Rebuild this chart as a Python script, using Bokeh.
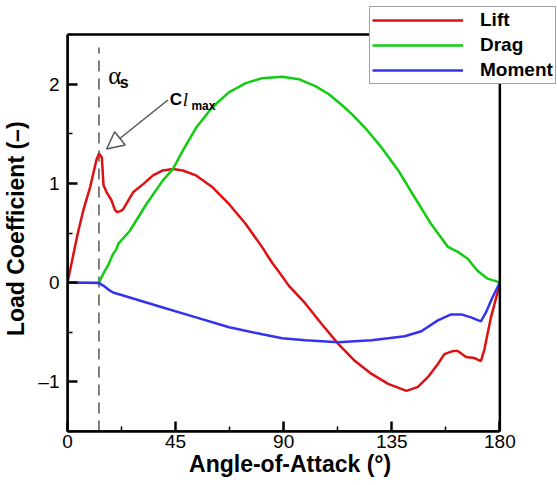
from bokeh.plotting import figure
from bokeh.models import (FixedTicker, Legend, LegendItem, Arrow, NormalHead,
                          Label, Range1d, BoxAnnotation)
from bokeh.embed import file_html
from bokeh.resources import INLINE

# ---------------- data ----------------
aoa_lift = [0, 2.5, 4.5, 6.6, 9.4, 12.1, 13.1, 14.3, 14.7, 15.0, 16.3, 18.3,
            19.6, 20.6, 22.0, 23.2, 27.3, 31.4, 35.6, 39.7, 43.9, 48.0, 53.5,
            60.4, 67.3, 74.2, 81.1, 85.2, 88.0, 92.1, 99.0, 105.9, 112.8,
            119.7, 126.6, 133.5, 141.1, 145.9, 150.1, 154.2, 156.9, 160.4,
            162.5, 165.9, 169.4, 172.1, 173.5, 176.3, 179.8, 180]
lift = [0, 0.29, 0.52, 0.73, 0.96, 1.24, 1.30, 1.26, 1.10, 0.98, 0.91, 0.83,
        0.74, 0.71, 0.72, 0.74, 0.91, 0.99, 1.08, 1.13, 1.145, 1.13, 1.08,
        0.96, 0.79, 0.59, 0.355, 0.20, 0.11, -0.03, -0.21, -0.42, -0.62,
        -0.79, -0.92, -1.02, -1.09, -1.05, -0.95, -0.82, -0.72, -0.69,
        -0.69, -0.75, -0.76, -0.79, -0.68, -0.35, -0.03, 0]

aoa_drag = [0, 13.1, 14.9, 17.0, 19.0, 20.4, 21.1, 25.9, 32.8, 39.7, 43.9,
            48.0, 53.5, 60.4, 67.3, 74.2, 81.1, 89.4, 96.3, 103.2, 108.7,
            114.2, 118.3, 123.9, 130.8, 137.7, 144.5, 151.4, 158.4, 162.5,
            166.6, 170.7, 174.9, 179.0, 180]
drag = [0, 0, 0.09, 0.18, 0.29, 0.34, 0.39, 0.52, 0.79, 1.03, 1.145,
        1.33, 1.56, 1.77, 1.92, 2.01, 2.06, 2.075, 2.05, 1.98, 1.90,
        1.79, 1.70, 1.56, 1.36, 1.13, 0.86, 0.59, 0.36, 0.31,
        0.24, 0.12, 0.04, 0.01, 0]

aoa_moment = [0, 13.1, 14.9, 17.0, 19.0, 25.9, 32.8, 39.7, 53.5, 67.3, 81.1,
              89.4, 99.0, 112.8, 126.6, 140.4, 147.3, 154.2, 159.7, 163.9,
              168.0, 172.1, 174.2, 176.9, 179.8, 180]
moment = [0, -0.005, -0.03, -0.07, -0.10, -0.15, -0.20, -0.25, -0.35, -0.45,
          -0.52, -0.56, -0.58, -0.60, -0.58, -0.54, -0.49, -0.38, -0.32,
          -0.32, -0.35, -0.39, -0.30, -0.15, -0.01, 0]

alpha_stall = 13.1
x_ticks = [0, 45, 90, 135, 180]
x_minor = [22.5, 67.5, 112.5, 157.5]
y_ticks = [-1, 0, 1, 2]
y_minor = [-1.5, -0.5, 0.5, 1.5, 2.5]
series_names = ["Lift", "Drag", "Moment"]
x_title = "Angle-of-Attack (\u00b0)"
y_title = "Load Coefficient (\u2013)"

X_MIN, X_MAX = 0, 180
Y_MIN, Y_MAX = -1.5, 2.5

# ---------------- figure ----------------
FONT = "Liberation Sans"
NBSP = "\u00a0"
# the frame reaches the top and right edges of the page so that the legend
# can overlap the plot box as in the original; the box itself is drawn below
p = figure(width=557, height=485,
           x_range=Range1d(X_MIN, X_MAX + 58 * (X_MAX - X_MIN) / 435),
           y_range=Range1d(Y_MIN, Y_MAX + 34 * (Y_MAX - Y_MIN) / 397),
           output_backend="svg", toolbar_location=None,
           min_border_left=64, min_border_right=0,
           min_border_top=0, min_border_bottom=54)
p.xgrid.visible = False
p.ygrid.visible = False
p.outline_line_color = None
p.background_fill_color = "white"
p.border_fill_color = "white"

for ax in (p.xaxis[0], p.yaxis[0]):
    ax.axis_line_width = 2.5
    ax.axis_line_color = "black"
    ax.major_tick_in = 10
    ax.major_tick_out = 0
    ax.major_tick_line_width = 2.5
    ax.minor_tick_in = 5
    ax.minor_tick_out = 0
    ax.minor_tick_line_width = 1.5
    ax.major_label_text_font = FONT
    ax.major_label_text_font_size = "19px"
    ax.major_label_text_color = "black"
    ax.axis_label_text_font = FONT
    ax.axis_label_text_font_size = "23px"
    ax.axis_label_text_font_style = "bold"
    ax.axis_label_text_color = "black"

p.xaxis.bounds = (X_MIN, X_MAX)
p.yaxis.bounds = (Y_MIN, Y_MAX)
p.xaxis.ticker = FixedTicker(ticks=x_ticks, minor_ticks=x_minor)
p.yaxis.ticker = FixedTicker(ticks=y_ticks, minor_ticks=y_minor)
p.yaxis.major_label_overrides = {-1: "\u20131"}
# titles are centred on the (wider) frame; pad them so they centre on the box
p.xaxis.axis_label = x_title + NBSP * 7
p.yaxis.axis_label = y_title + NBSP * 4
p.xaxis.major_label_standoff = 3
p.xaxis.axis_label_standoff = 0
p.yaxis.major_label_standoff = 8
p.yaxis.axis_label_standoff = 6

# stall line
p.line([alpha_stall, alpha_stall], [Y_MIN, 2.37], line_color="#555555",
       line_width=1.5, line_dash="11 7")

r_lift = p.line(aoa_lift, lift, line_color="#dd1111", line_width=2.5)
r_drag = p.line(aoa_drag, drag, line_color="#11cc11", line_width=2.5)
r_mom = p.line(aoa_moment, moment, line_color="#3333ee", line_width=2.5)

# plot box
p.add_layout(BoxAnnotation(left=X_MIN, right=X_MAX, bottom=Y_MIN, top=Y_MAX,
                           fill_alpha=0, line_color="black", line_alpha=1,
                           line_width=2.5))

legend = Legend(items=[LegendItem(label=series_names[0], renderers=[r_lift]),
                       LegendItem(label=series_names[1], renderers=[r_drag]),
                       LegendItem(label=series_names[2], renderers=[r_mom])],
                location=(302, 347), glyph_width=91, glyph_height=22,
                label_height=22, label_standoff=17, spacing=3, padding=2,
                margin=0, border_line_color="#444444", border_line_width=1,
                background_fill_color="white", background_fill_alpha=1,
                label_text_font=FONT, label_text_font_size="19px",
                label_text_font_style="bold", label_text_color="black")
p.add_layout(legend, "center")

# annotations
p.add_layout(Arrow(end=NormalHead(size=17, fill_color="white",
                                  line_color="#555555", line_width=1.5),
                   x_start=41.8, y_start=1.84, x_end=16.3, y_end=1.346,
                   line_color="#555555", line_width=1.5))
p.add_layout(Label(x=17.0, y=2.086, text="\u03b1", text_font="Liberation Serif",
                   text_font_size="25px", text_color="black",
                   text_baseline="alphabetic"))
p.add_layout(Label(x=21.8, y=2.02, text="s", text_font=FONT,
                   text_font_size="16px", text_font_style="bold",
                   text_color="black", text_baseline="alphabetic"))
p.add_layout(Label(x=42.6, y=1.842, text="C", text_font=FONT,
                   text_font_size="17px", text_font_style="bold",
                   text_color="black", text_baseline="alphabetic"))
p.add_layout(Label(x=48.0, y=1.842, text="l", text_font="Liberation Serif",
                   text_font_size="19px", text_font_style="italic",
                   text_color="black", text_baseline="alphabetic"))
p.add_layout(Label(x=51.6, y=1.78, text="max", text_font=FONT,
                   text_font_size="12px", text_font_style="bold",
                   text_color="black", text_baseline="alphabetic"))

open("out.html", "w").write(file_html(p, INLINE))
